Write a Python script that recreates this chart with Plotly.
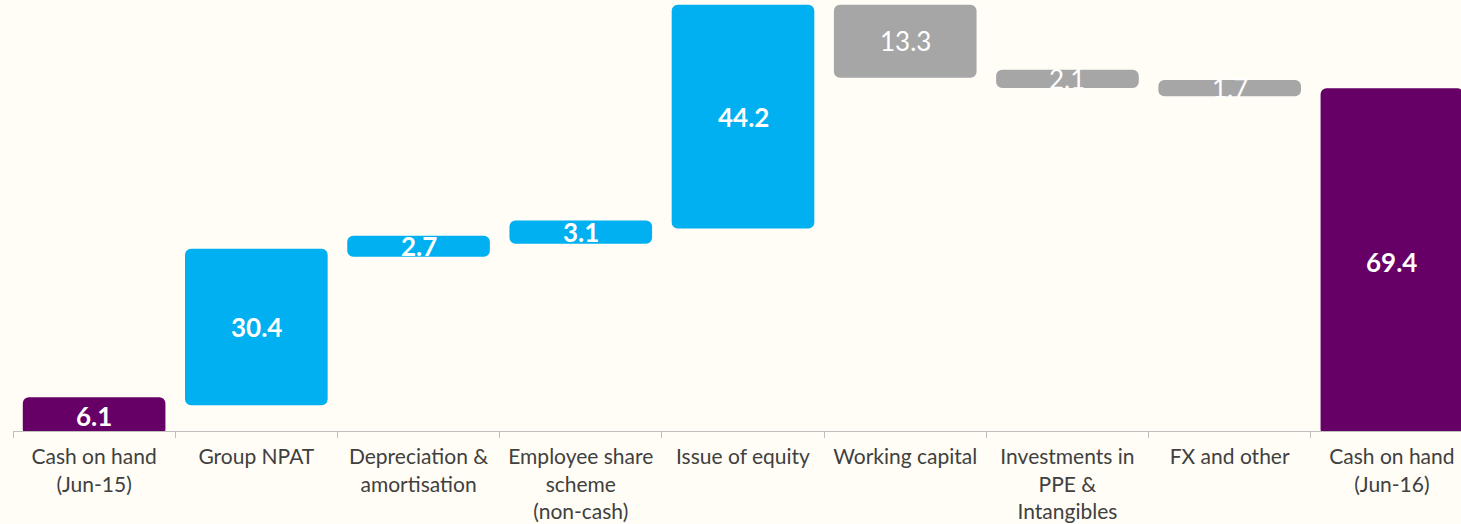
import plotly.graph_objects as go

# ---- data ----
categories = [
    "Cash on hand<br>(Jun-15)",
    "Group NPAT",
    "Depreciation &<br>amortisation",
    "Employee share<br>scheme<br>(non-cash)",
    "Issue of equity",
    "Working capital",
    "Investments in<br>PPE &<br>Intangibles",
    "FX and other",
    "Cash on hand<br>(Jun-16)",
]
values = [6.1, 30.4, 2.7, 3.1, 44.2, -13.3, -2.1, -1.7, 69.4]
measures = ["total", "relative", "relative", "relative", "relative",
            "relative", "relative", "relative", "total"]

# ---- styles ----
PURPLE = "#660066"
BLUE = "#00B0F0"
GREY = "#A6A6A6"
BG = "#FFFDF6"

bases, heights, colors, mids, texts = [], [], [], [], []
running = 0.0
for v, m in zip(values, measures):
    if m == "total":
        b, h = 0.0, v
        running = v
        c = PURPLE
    else:
        if v >= 0:
            b, h = running, v
            c = BLUE
        else:
            b, h = running + v, -v
            c = GREY
        running += v
    bases.append(b)
    heights.append(h)
    colors.append(c)
    mids.append(b + h / 2)
    lab = f"{abs(v):.1f}"
    texts.append(lab if c == GREY else f"<b>{lab}</b>")

fig = go.Figure()
fig.add_trace(go.Bar(
    x=categories, y=heights, base=bases,
    width=0.83,
    marker=dict(color=colors, line=dict(color=colors, width=8), cornerradius=2),
    hoverinfo="skip", showlegend=False,
))

for cat, ym, t in zip(categories, mids, texts):
    fig.add_annotation(
        x=cat, y=ym, text=t, showarrow=False,
        xanchor="center", yanchor="middle", yshift=0,
        font=dict(family="Lato", size=26, color="white"),
    )

n = len(categories)
fig.update_layout(
    width=1461, height=524,
    margin=dict(l=13, r=0, t=0, b=93),
    paper_bgcolor=BG, plot_bgcolor=BG,
    xaxis=dict(
        type="category",
        range=[-0.5, n - 0.5 - 12 / 162.2],
        showline=True, linecolor="#BFBFBF", linewidth=1,
        ticks="outside", tickson="boundaries", ticklen=6, tickcolor="#BFBFBF",
        ticklabelstandoff=7,
        tickfont=dict(family="Lato", size=21, color="#404040"),
        showgrid=False, zeroline=False, fixedrange=True,
    ),
    yaxis=dict(
        range=[0, 88.3], visible=False, showgrid=False, zeroline=False,
        fixedrange=True,
    ),
)

fig.write_html(
    "out.html",
    config={"displayModeBar": False},
    post_script="document.body.style.margin='0';document.body.style.background='%s';" % BG,
)
